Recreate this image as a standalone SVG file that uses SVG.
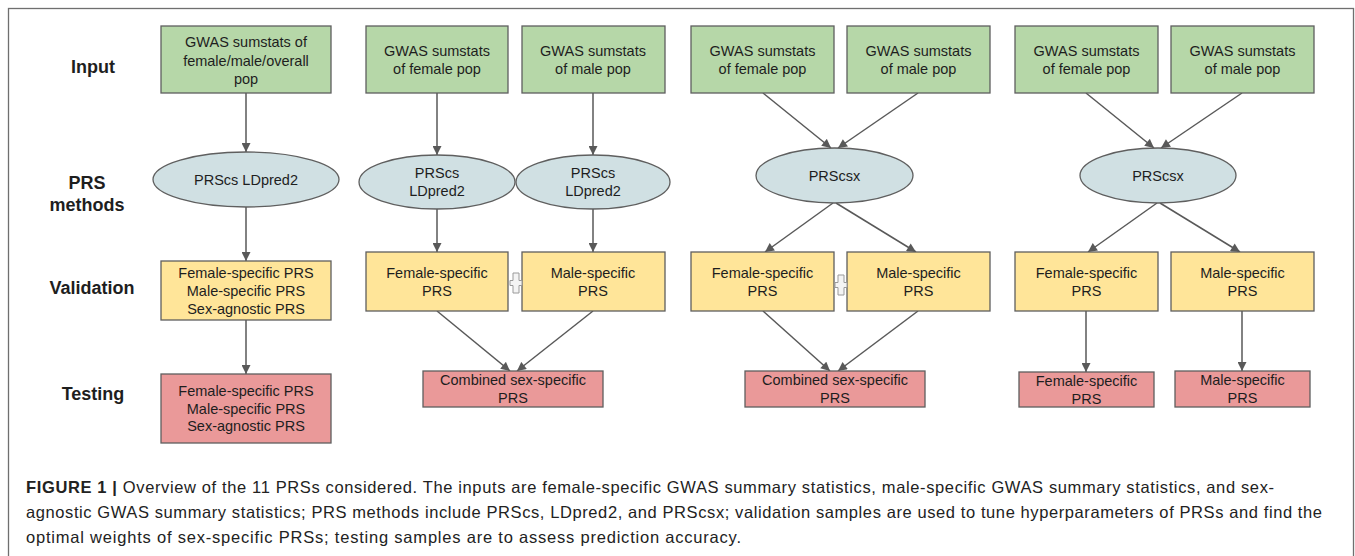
<svg xmlns="http://www.w3.org/2000/svg" width="1355" height="556" viewBox="0 0 1355 556">
<defs>
<style>
.frame{fill:none;stroke:#6f6f6f;stroke-width:1.3}
.g{fill:#b6d7a8;stroke:#5f5f5f;stroke-width:1.3}
.y{fill:#ffe599;stroke:#5f5f5f;stroke-width:1.3}
.r{fill:#ea9999;stroke:#5f5f5f;stroke-width:1.3}
.e{fill:#d0e0e3;stroke:#5f5f5f;stroke-width:1.3}
.t{font-family:"Liberation Sans",Arial,sans-serif;font-size:14.5px;fill:#1e1e1e;text-anchor:middle}
.lab{font-family:"Liberation Sans",Arial,sans-serif;font-size:18px;font-weight:bold;fill:#1e1e1e;text-anchor:middle}
.cap{font-family:"Liberation Sans",Arial,sans-serif;font-size:16.5px;fill:#222}
.c{fill:none;stroke:#595959;stroke-width:1.5;marker-end:url(#ah)}
.plus{fill:#f4f4f4;stroke:#9a9a9a;stroke-width:1}
</style>
<marker id="ah" viewBox="0 0 10 10" refX="10" refY="5" markerWidth="10" markerHeight="9" markerUnits="userSpaceOnUse" orient="auto">
<path d="M0,0 L10,5 L0,10 z" fill="#595959"/>
</marker>
</defs>
<rect x="0" y="0" width="1355" height="556" fill="#ffffff"/>
<rect class="frame" x="8.5" y="8.5" width="1345" height="560"/>

<g id="row-labels">
<text class="lab" x="93" y="72.5">Input</text>
<text class="lab" x="87" y="188.5">PRS</text>
<text class="lab" x="87" y="210.5">methods</text>
<text class="lab" x="92" y="293.5">Validation</text>
<text class="lab" x="93" y="399.5">Testing</text>
</g>

<g id="connectors">
<line class="c" x1="246" y1="93" x2="246" y2="152"/>
<line class="c" x1="246" y1="207" x2="246" y2="261"/>
<line class="c" x1="246" y1="320" x2="246" y2="374"/>
<line class="c" x1="437" y1="93" x2="437" y2="155"/>
<line class="c" x1="593" y1="93" x2="593" y2="155"/>
<line class="c" x1="437" y1="209" x2="437" y2="252"/>
<line class="c" x1="593" y1="209" x2="593" y2="252"/>
<line class="c" x1="437" y1="311" x2="510" y2="371"/>
<line class="c" x1="593" y1="311" x2="517" y2="371"/>
<line class="c" x1="763" y1="93" x2="831" y2="148"/>
<line class="c" x1="918" y1="93" x2="838" y2="148"/>
<line class="c" x1="833" y1="203" x2="765" y2="252"/>
<line class="c" x1="836" y1="203" x2="916" y2="252"/>
<line class="c" x1="763" y1="311" x2="830" y2="371"/>
<line class="c" x1="918" y1="311" x2="838" y2="371"/>
<line class="c" x1="1086" y1="93" x2="1154" y2="148"/>
<line class="c" x1="1242" y1="93" x2="1161" y2="148"/>
<line class="c" x1="1157" y1="203" x2="1088" y2="252"/>
<line class="c" x1="1160" y1="203" x2="1240" y2="252"/>
<line class="c" x1="1086" y1="311" x2="1086" y2="372"/>
<line class="c" x1="1242" y1="311" x2="1242" y2="371"/>
</g>

<g id="in1"><rect class="g" x="161" y="26" width="170" height="67"/>
<text class="t" x="246" y="47">GWAS sumstats of</text><text class="t" x="246" y="65.5">female/male/overall</text><text class="t" x="246" y="84">pop</text></g>
<g id="in2"><rect class="g" x="366" y="26" width="142" height="67"/>
<text class="t" x="437" y="56">GWAS sumstats</text><text class="t" x="437" y="74">of female pop</text></g>
<g id="in3"><rect class="g" x="522" y="26" width="143" height="67"/>
<text class="t" x="593" y="56">GWAS sumstats</text><text class="t" x="593" y="74">of male pop</text></g>
<g id="in4"><rect class="g" x="691" y="26" width="143" height="67"/>
<text class="t" x="762.5" y="56">GWAS sumstats</text><text class="t" x="762.5" y="74">of female pop</text></g>
<g id="in5"><rect class="g" x="847" y="26" width="143" height="67"/>
<text class="t" x="918.5" y="56">GWAS sumstats</text><text class="t" x="918.5" y="74">of male pop</text></g>
<g id="in6"><rect class="g" x="1015" y="26" width="143" height="67"/>
<text class="t" x="1086.5" y="56">GWAS sumstats</text><text class="t" x="1086.5" y="74">of female pop</text></g>
<g id="in7"><rect class="g" x="1171" y="26" width="143" height="67"/>
<text class="t" x="1242.5" y="56">GWAS sumstats</text><text class="t" x="1242.5" y="74">of male pop</text></g>

<g id="m1"><ellipse class="e" cx="246" cy="179.5" rx="93" ry="27.5"/>
<text class="t" x="246" y="184.5">PRScs LDpred2</text></g>
<g id="m2"><ellipse class="e" cx="437" cy="182" rx="78" ry="27"/>
<text class="t" x="437" y="178">PRScs</text><text class="t" x="437" y="196">LDpred2</text></g>
<g id="m3"><ellipse class="e" cx="593" cy="182" rx="77" ry="27"/>
<text class="t" x="593" y="178">PRScs</text><text class="t" x="593" y="196">LDpred2</text></g>
<g id="m4"><ellipse class="e" cx="834.5" cy="175.5" rx="78.5" ry="27.5"/>
<text class="t" x="834.5" y="181">PRScsx</text></g>
<g id="m5"><ellipse class="e" cx="1158" cy="175.5" rx="78" ry="27.5"/>
<text class="t" x="1158" y="181">PRScsx</text></g>

<g id="v1"><rect class="y" x="161" y="261" width="170" height="59"/>
<text class="t" x="246" y="278">Female-specific PRS</text><text class="t" x="246" y="296">Male-specific PRS</text><text class="t" x="246" y="313.5">Sex-agnostic PRS</text></g>
<g id="v2"><rect class="y" x="366" y="252" width="142" height="59"/>
<text class="t" x="437" y="278">Female-specific</text><text class="t" x="437" y="296">PRS</text></g>
<g id="v3"><rect class="y" x="522" y="252" width="143" height="59"/>
<text class="t" x="593" y="278">Male-specific</text><text class="t" x="593" y="296">PRS</text></g>
<g id="v4"><rect class="y" x="691" y="252" width="143" height="59"/>
<text class="t" x="762.5" y="278">Female-specific</text><text class="t" x="762.5" y="296">PRS</text></g>
<g id="v5"><rect class="y" x="847" y="252" width="143" height="59"/>
<text class="t" x="918.5" y="278">Male-specific</text><text class="t" x="918.5" y="296">PRS</text></g>
<g id="v6"><rect class="y" x="1015" y="252" width="143" height="59"/>
<text class="t" x="1086.5" y="278">Female-specific</text><text class="t" x="1086.5" y="296">PRS</text></g>
<g id="v7"><rect class="y" x="1171" y="252" width="143" height="59"/>
<text class="t" x="1242.5" y="278">Male-specific</text><text class="t" x="1242.5" y="296">PRS</text></g>

<g id="plus1"><path class="plus" d="M513,273 h6 v7.5 h3 v5 h-3 v7.5 h-6 v-7.5 h-3 v-5 h3 z"/></g>
<g id="plus2"><path class="plus" d="M838,275 h6 v7.5 h3 v5 h-3 v7.5 h-6 v-7.5 h-3 v-5 h3 z"/></g>

<g id="t1"><rect class="r" x="161" y="374" width="170" height="69"/>
<text class="t" x="246" y="396">Female-specific PRS</text><text class="t" x="246" y="413.5">Male-specific PRS</text><text class="t" x="246" y="431">Sex-agnostic PRS</text></g>
<g id="t2"><rect class="r" x="423" y="371" width="180" height="36"/>
<text class="t" x="513" y="385">Combined sex-specific</text><text class="t" x="513" y="403">PRS</text></g>
<g id="t3"><rect class="r" x="745" y="371" width="180" height="36"/>
<text class="t" x="835" y="385">Combined sex-specific</text><text class="t" x="835" y="403">PRS</text></g>
<g id="t4"><rect class="r" x="1019" y="372" width="135" height="35"/>
<text class="t" x="1086.5" y="386">Female-specific</text><text class="t" x="1086.5" y="404">PRS</text></g>
<g id="t5"><rect class="r" x="1175" y="371" width="135" height="36"/>
<text class="t" x="1242.5" y="385">Male-specific</text><text class="t" x="1242.5" y="403">PRS</text></g>

<g id="caption">
<text class="cap" x="26" y="493" textLength="1248" lengthAdjust="spacing"><tspan font-weight="bold">FIGURE 1 |</tspan> Overview of the 11 PRSs considered. The inputs are female-specific GWAS summary statistics, male-specific GWAS summary statistics, and sex-</text>
<text class="cap" x="26" y="518" textLength="1296" lengthAdjust="spacing">agnostic GWAS summary statistics; PRS methods include PRScs, LDpred2, and PRScsx; validation samples are used to tune hyperparameters of PRSs and find the</text>
<text class="cap" x="26" y="543" textLength="715" lengthAdjust="spacing">optimal weights of sex-specific PRSs; testing samples are to assess prediction accuracy.</text>
</g>
</svg>
